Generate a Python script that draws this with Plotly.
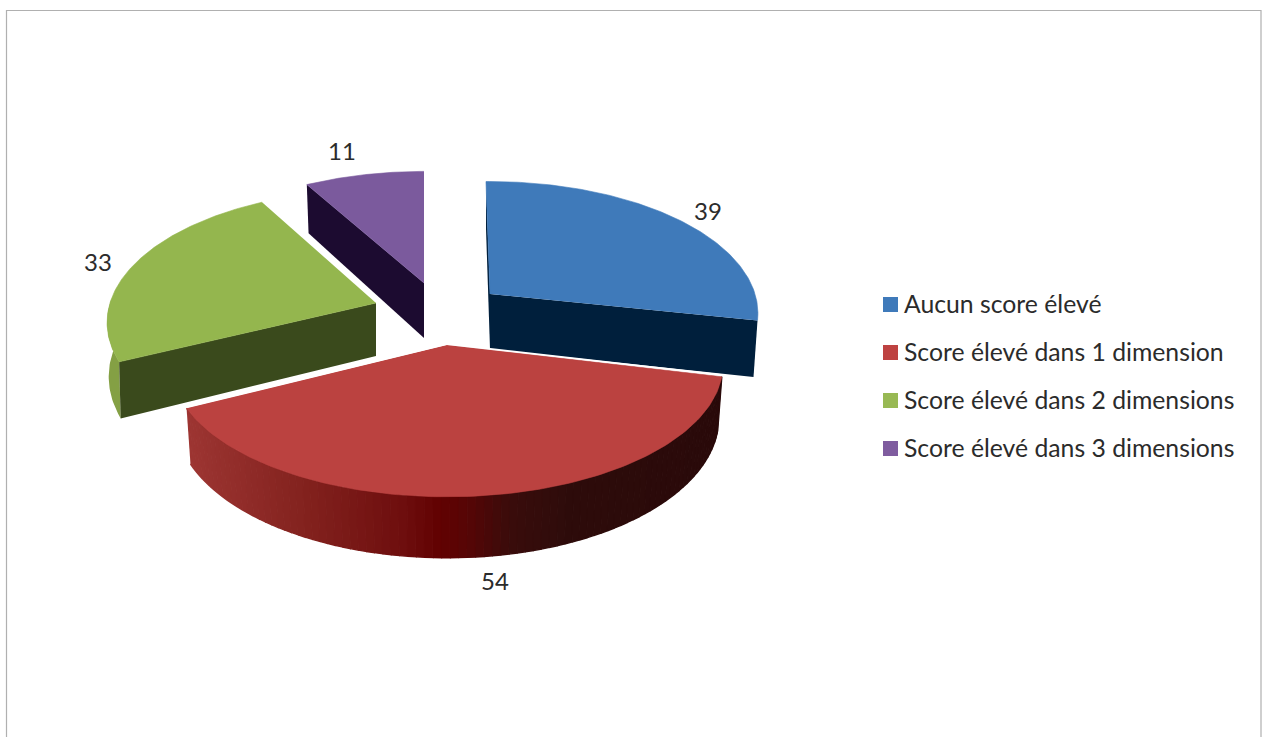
import numpy as np
import plotly.graph_objects as go

# ---- data ----
categories = ["Aucun score élevé", "Score élevé dans 1 dimension",
              "Score élevé dans 2 dimensions", "Score élevé dans 3 dimensions"]
values = [39, 54, 33, 11]

# ---- styling / layout ----
top_colors = ["#3f7aba", "#bb4240", "#94b64e", "#7b5a9d"]
legend_colors = ["#3f7aba", "#be4241", "#98b954", "#7f5c9f"]
wall_colors = ["#001f3c", "#5a0606", "#3a4a1c", "#1c0b30"]
rim_colors = ["#2c5a8c", "#8a2522", "#84a044", "#5b4275"]
apex_px = [(490, 294), (447, 345), (376, 303), (424, 283)]
label_offset_px = [(218, -80), (48, 239), (-278, -38), (-82, -129)]
slice_rx = [265.0, 273.0, 266.0, 265.0]
slice_ry = [129.0, 129.5, 130.0, 128.0]
slice_wall = [55.0, 52.0, 53.0, 55.0]
slice_shrink = [0.985, 0.985, 0.994, 0.985]
edge_nudge_deg = [(0, 0), (2.2, -0.5), (1.5, 1), (0, 1)]
K = 0.147     # ground-plane perspective
START_DEG = -1.0
red_stops_x = [186, 300, 400, 440, 470, 510, 570, 723]
red_stops_rgb = [(158, 54, 51), (132, 35, 31), (111, 15, 15), (98, 2, 2),
                 (86, 6, 6), (58, 12, 11), (46, 12, 11), (42, 10, 10)]
legend_swatch_x = 890.5
legend_swatch_y = [304.5, 352.5, 400.5, 448.5]
FONT = "Lato"
TEXT = "#2b2b2b"


def project(theta_deg, i, r=1.0):
    """Disc point (clockwise from 12 o'clock) of slice i to page position, top and bottom faces."""
    apex = apex_px[i]
    t = np.radians(theta_deg)
    X, Y = r * np.sin(t), -r * np.cos(t)
    w = 1 - K * Y
    dx, dy = slice_rx[i] * X / w, slice_ry[i] * Y / w
    wall = slice_wall[i] / w
    return apex[0] + dx, apex[1] + dy, apex[0] + dx * slice_shrink[i], apex[1] + dy + wall


def poly(xs, ys, color, outline=None, width=0.6):
    return go.Scatter(x=list(xs), y=list(ys), mode="lines", fill="toself", fillcolor=color,
                      line=dict(color=outline or color, width=width if outline else 0),
                      hoverinfo="skip", showlegend=False)


total = sum(values)
edges = START_DEG + np.concatenate([[0], np.cumsum(values)]) * 360.0 / total
spans = [(a + n[0], b + n[1]) for a, b, n in zip(edges[:-1], edges[1:], edge_nudge_deg)]

fig = go.Figure()


def radial_wall(angle, i, color):
    tx, ty, bx, by = project(angle, i)
    ax, ay, abx, aby = project(angle, i, 0.0)
    fig.add_trace(poly([ax, tx, bx, abx], [ay, ty, by, aby], color))


def arc(a0, a1, i, n=120):
    return project(np.linspace(a0, a1, n), i)


def top_face(i):
    tx, ty, _, _ = arc(*spans[i], i)
    ax, ay = apex_px[i]
    fig.add_trace(poly(np.r_[ax, tx], np.r_[ay, ty], top_colors[i], top_colors[i]))


# purple
radial_wall(spans[3][0], 3, wall_colors[3])
top_face(3)

# green: rim on the far-left part, then the radial face
gx, gy, gbx, gby = arc(spans[2][0], 272, 2, 30)
fig.add_trace(poly(np.r_[gx, gbx[::-1]], np.r_[gy, gby[::-1]], rim_colors[2]))
radial_wall(spans[2][0], 2, wall_colors[2])
top_face(2)

# blue
radial_wall(spans[0][0], 0, wall_colors[0])
radial_wall(spans[0][1], 0, wall_colors[0])
top_face(0)

# red: shaded rim in narrow overlapping bands
bands = np.linspace(spans[1][1], spans[1][0], 91)
for a0, a1 in zip(bands[:-1], bands[1:]):
    x0, y0, bx0, by0 = project(a0, 1)
    x1, y1, bx1, by1 = project(a1, 1)
    xm = (x0 + x1) / 2
    rgb = [np.interp(xm, red_stops_x, [c[k] for c in red_stops_rgb]) for k in range(3)]
    color = "rgb(%d,%d,%d)" % tuple(rgb)
    fig.add_trace(poly([x0, x1, bx1, bx0], [y0, y1, by1, by0], color, color, 1.4))
top_face(1)
rx0, ry0, _, _ = project(spans[1][0], 1)
rx1, ry1, _, _ = project(spans[1][1], 1)
fig.add_trace(go.Scatter(x=[rx0 + 1, apex_px[1][0], rx1], y=[ry0 - 1.5, apex_px[1][1] - 1, ry1 - 1.5],
                         mode="lines", line=dict(color="white", width=1.8),
                         hoverinfo="skip", showlegend=False))

# value labels
fig.add_trace(go.Scatter(
    x=[a[0] + o[0] for a, o in zip(apex_px, label_offset_px)],
    y=[a[1] + o[1] for a, o in zip(apex_px, label_offset_px)],
    text=[str(v) for v in values], mode="text", textposition="middle center",
    textfont=dict(family=FONT, size=24, color=TEXT), hoverinfo="skip", showlegend=False))

# legend swatches, placed closer to their text than the native legend allows
fig.add_trace(go.Scatter(x=[legend_swatch_x] * 4, y=legend_swatch_y, mode="markers",
                         marker=dict(symbol="square", size=15, color=legend_colors),
                         hoverinfo="skip", showlegend=False))
# legend entries
for i, name in enumerate(categories):
    fig.add_trace(go.Scatter(x=[None], y=[None], mode="markers", name=name, legendgroup=name,
                             marker=dict(symbol="square", size=1, color="rgba(0,0,0,0)")))

fig.update_layout(
    width=1264, height=737, autosize=False,
    margin=dict(l=0, r=0, t=0, b=0),
    paper_bgcolor="white", plot_bgcolor="white",
    xaxis=dict(range=[0, 1264], visible=False, fixedrange=True),
    yaxis=dict(range=[737, 0], visible=False, fixedrange=True),
    legend=dict(x=864 / 1264, y=1 - 375.5 / 737, xanchor="left", yanchor="middle",
                font=dict(family=FONT, size=24.75, color=TEXT), tracegroupgap=13,
                bgcolor="rgba(0,0,0,0)", itemclick=False, itemdoubleclick=False),
    shapes=[dict(type="rect", xref="x", yref="y", x0=6.5, x1=1261, y0=10.5, y1=760,
                 line=dict(color="#b0b0b0", width=1.2), fillcolor="rgba(0,0,0,0)", layer="below")],
)

fig.write_html("out.html", config=dict(displayModeBar=False),
               post_script="document.body.style.margin='0';document.body.style.overflow='hidden';")
